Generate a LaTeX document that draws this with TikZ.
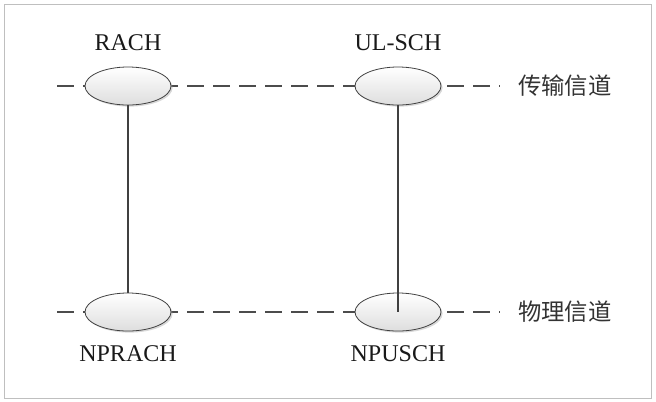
\documentclass[tikz,border=0pt]{standalone}
\usepackage{fontspec}
\setmainfont{Liberation Serif}
\newfontfamily\cjk{Noto Sans CJK SC}
\usetikzlibrary{positioning,shadows,shapes.geometric}

\tikzset{
	chan/.style={ellipse,draw=black!75,line width=0.6pt,minimum width=64.5pt,minimum height=28.5pt,
		top color=white,bottom color=black!13,
		drop shadow={shadow xshift=1.2pt,shadow yshift=-1.2pt,fill=black!30,opacity=0.5}},
	chname/.style={font=\fontsize{18}{20}\selectfont,text=black!90},
	layer/.style={font=\cjk\fontsize{17.5}{20}\selectfont,text=black!80},
	dline/.style={draw=black!70,line width=1.5pt,dash pattern=on 12.75pt off 6.75pt},
	vline/.style={draw=black!75,line width=1.1pt}
}

\begin{document}
\begin{tikzpicture}[x=0.75pt,y=-0.75pt,node distance=202.5pt]
	\useasboundingbox (0,0) rectangle (656,401);
	\draw[black!25,line width=0.6pt] (4,4) rectangle (651,398);
	
	% dashed level lines (behind the channels)
	\coordinate (tl) at (57,86);
	\coordinate (tr) at (500,86);
	\coordinate (bl) at (57,312);
	\coordinate (br) at (500,312);
	\path[dline] (tl) -- (tr);
	\path[dline] (bl) -- (br);
	
	% channels
	\node[chan] (rach) at (128,86) {};
	\node[chan] (ulsch) [right of=rach] {};
	\node[chan] (nprach) [below of=rach, node distance=169.5pt] {};
	\node[chan] (npusch) [right of=nprach] {};
	
	\node[chname] (rachtxt) [above of=rach, node distance=32.25pt] {RACH};
	\node[chname] (ulschtxt) [above of=ulsch, node distance=32.25pt] {UL-SCH};
	\node[chname] (nprachtxt) [below of=nprach, node distance=31.5pt] {NPRACH};
	\node[chname] (npuschtxt) [below of=npusch, node distance=31.5pt] {NPUSCH};
	
	\node[layer] (trans) [right=54pt of ulsch] {传输信道};
	\node[layer] (phys) [right=54pt of npusch] {物理信道};
	
	% mappings
	\path[vline] (rach.south) -- (nprach.north);
	\path[vline] (ulsch.south) -- (npusch.center);
\end{tikzpicture}
\end{document}
